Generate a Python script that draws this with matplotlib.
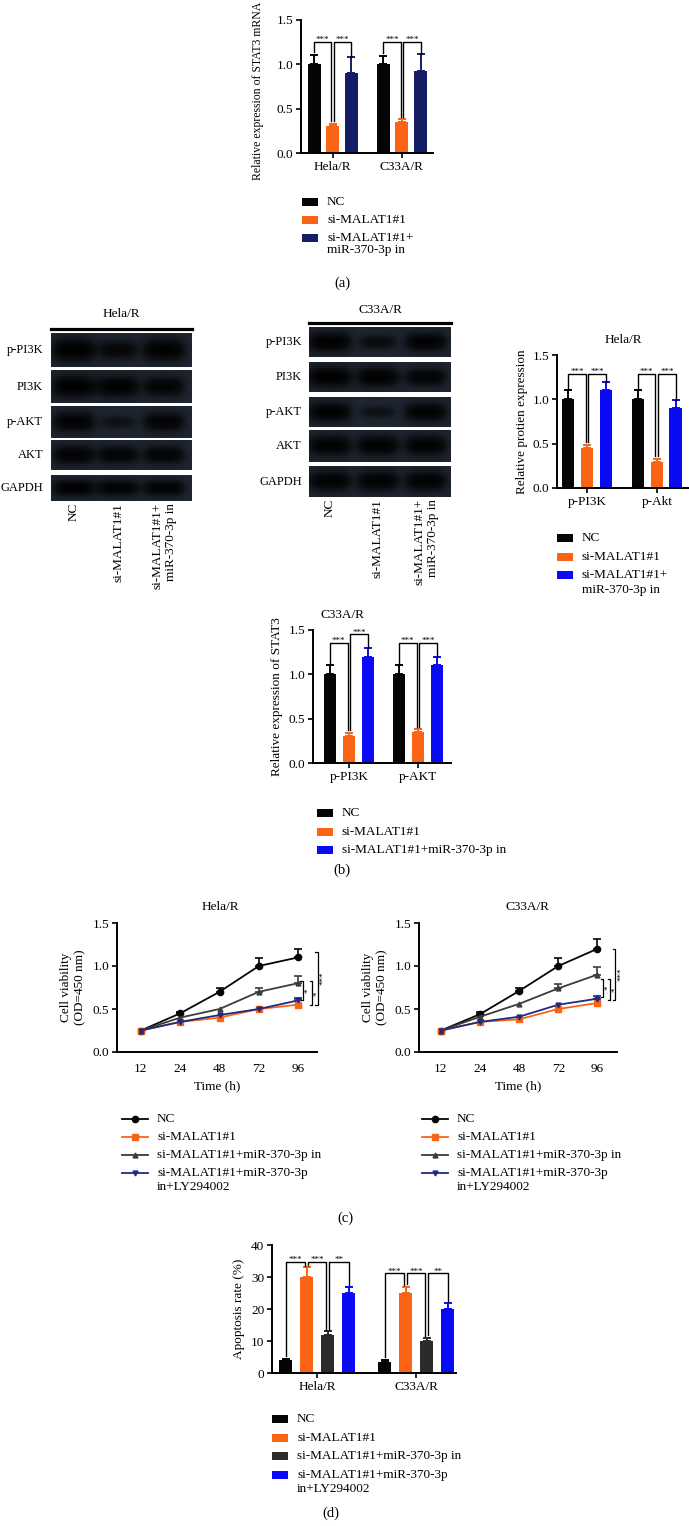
import numpy as np
import matplotlib
matplotlib.use('Agg')
import matplotlib.pyplot as plt
from matplotlib.patches import Rectangle
from matplotlib.lines import Line2D
from matplotlib.colors import LinearSegmentedColormap

plt.rcParams['font.family'] = ['Liberation Serif', 'DejaVu Serif']
plt.rcParams['font.size'] = 9.5

# ---- data ----
# (a) STAT3 mRNA
groups_a = ['Hela/R', 'C33A/R']
nc_a = [1.0, 1.0]
nc_a_err = [0.1, 0.09]
si_a = [0.30, 0.35]
si_a_err = [0.03, 0.03]
inh_a = [0.90, 0.92]
inh_a_err = [0.18, 0.20]

# (b) western blot band strength (0-1)
blot_rows = ['p-PI3K', 'PI3K', 'p-AKT', 'AKT', 'GAPDH']
lanes = ['NC', 'si-MALAT1#1', 'si-MALAT1#1+\nmiR-370-3p in']
hela_bands = [[1.00, 0.75, 0.95],
              [1.00, 0.95, 0.85],
              [0.90, 0.45, 0.85],
              [0.90, 0.85, 0.85],
              [0.95, 0.90, 0.90]]
c33a_bands = [[0.95, 0.60, 0.90],
              [1.00, 0.95, 0.85],
              [0.95, 0.45, 0.90],
              [0.90, 0.90, 0.90],
              [0.90, 0.90, 0.90]]

# (b) Hela/R protein bars
groups_bh = ['p-PI3K', 'p-Akt']
nc_bh = [1.0, 1.0]
nc_bh_err = [0.1, 0.1]
si_bh = [0.45, 0.29]
si_bh_err = [0.04, 0.04]
inh_bh = [1.10, 0.90]
inh_bh_err = [0.10, 0.09]

# (b) C33A/R bars
groups_bc = ['p-PI3K', 'p-AKT']
nc_bc = [1.0, 1.0]
nc_bc_err = [0.1, 0.1]
si_bc = [0.30, 0.35]
si_bc_err = [0.04, 0.03]
inh_bc = [1.20, 1.10]
inh_bc_err = [0.10, 0.09]

# (c) cell viability
time_labels = ['12', '24', '48', '72', '96']
hela_nc = [0.25, 0.45, 0.70, 1.00, 1.10]
hela_nc_err = [0.0, 0.01, 0.04, 0.09, 0.10]
hela_si = [0.25, 0.35, 0.40, 0.50, 0.55]
hela_si_err = [0.0, 0.0, 0.0, 0.0, 0.0]
hela_inh = [0.25, 0.40, 0.50, 0.70, 0.80]
hela_inh_err = [0.0, 0.0, 0.0, 0.04, 0.08]
hela_ly = [0.25, 0.35, 0.43, 0.50, 0.60]
hela_ly_err = [0.0, 0.0, 0.0, 0.0, 0.03]

c33a_nc = [0.25, 0.44, 0.71, 1.00, 1.20]
c33a_nc_err = [0.0, 0.02, 0.04, 0.09, 0.11]
c33a_si = [0.25, 0.35, 0.38, 0.50, 0.57]
c33a_si_err = [0.0, 0.0, 0.0, 0.0, 0.0]
c33a_inh = [0.25, 0.41, 0.56, 0.74, 0.90]
c33a_inh_err = [0.0, 0.0, 0.0, 0.05, 0.09]
c33a_ly = [0.25, 0.35, 0.41, 0.55, 0.62]
c33a_ly_err = [0.0, 0.0, 0.0, 0.0, 0.03]

# (d) apoptosis
groups_d = ['Hela/R', 'C33A/R']
nc_d = [4.0, 3.5]
nc_d_err = [0.5, 0.6]
si_d = [30.0, 25.0]
si_d_err = [3.0, 2.0]
inh_d = [12.0, 10.0]
inh_d_err = [1.0, 1.0]
ly_d = [25.0, 20.0]
ly_d_err = [2.0, 2.0]

# colours
BLACK = '#050505'
ORANGE = '#fa6414'
NAVY = '#151d66'
BLUE = '#0a0af5'
DGRAY = '#2b2b2b'
LGRAY = '#3c3c3c'
LNAVY = '#1f2a80'

W, H = 689, 1526
fig = plt.figure(figsize=(W / 100, H / 100), dpi=100)


def rect(l, t, r, b):
    return [l / W, 1 - b / H, (r - l) / W, (b - t) / H]


def fp(x, y):
    return (x / W, 1 - y / H)


def style_ax(ax):
    for s in ['top', 'right']:
        ax.spines[s].set_visible(False)
    for s in ['left', 'bottom']:
        ax.spines[s].set_linewidth(1.4)
    ax.tick_params(width=1.2, length=3.5, labelsize=9.5, pad=2)


def bars(ax, series, errs, colors, width, step):
    n = len(series)
    x = np.arange(len(series[0]))
    pos = []
    for i, (v, e, c) in enumerate(zip(series, errs, colors)):
        xi = x + (i - (n - 1) / 2) * step
        ax.bar(xi, v, width, color=c, zorder=2)
        ax.errorbar(xi, v, yerr=[np.zeros(len(v)), e], fmt='none', ecolor=c,
                    elinewidth=1.4, capsize=3, capthick=1.4, zorder=2, clip_on=False)
        pos.append(xi)
    ax.set_xticks(x)
    return pos


def bracket(ax, x1, x2, top, b1, b2, txt):
    ax.plot([x1, x1, x2, x2], [b1, top, top, b2], color='black', lw=1.0,
            clip_on=False, zorder=3)
    ax.text((x1 + x2) / 2, top, txt, ha='center', va='baseline', fontsize=6.5,
            clip_on=False)


def legend_rows(labels, styles, x, y0, pitch, kind, cont=13.5):
    # handle aligned with the first line of each label, like the original
    y = y0
    for lab, st in zip(labels, styles):
        if kind == 'bar':
            x0, y0f = fp(x, y + 4)
            fig.add_artist(Rectangle((x0, y0f), 16 / W, 8 / H, facecolor=st,
                                     edgecolor='none', transform=fig.transFigure))
            tx = x + 25
        else:
            c, m, ms = st
            fig.add_artist(Line2D([x / W, (x + 13) / W, (x + 26) / W], [1 - y / H] * 3,
                                  color=c, lw=1.3, marker=m, ms=ms, markevery=[1],
                                  transform=fig.transFigure))
            tx = x + 35
        for k, line in enumerate(lab.split('\n')):
            fig.text(*fp(tx, y + k * cont), line, ha='left', va='center', fontsize=9.5)
        y += pitch + (len(lab.split('\n')) - 1) * cont


# ---------------- (a) ----------------
ax = fig.add_axes(rect(301, 20, 433, 153))
p = bars(ax, [nc_a, si_a, inh_a], [nc_a_err, si_a_err, inh_a_err],
         [BLACK, ORANGE, NAVY], 0.19, 0.27)
ax.set_xticklabels(groups_a)
ax.set_xlim(-0.46, 1.45)
ax.set_ylim(0, 1.5)
ax.set_yticks([0, 0.5, 1.0, 1.5])
style_ax(ax)
ax.set_ylabel('Relative expression of STAT3 mRNA', fontsize=8.5)
ax.yaxis.set_label_coords(-0.28, 0.465)
for g in range(2):
    bracket(ax, p[0][g], p[1][g] - 0.02, 1.255,
            nc_a[g] + nc_a_err[g] + 0.04, si_a[g] + si_a_err[g] + 0.03, '***')
    bracket(ax, p[1][g] + 0.02, p[2][g], 1.255,
            si_a[g] + si_a_err[g] + 0.03, inh_a[g] + inh_a_err[g], '***')
legend_rows(['NC', 'si-MALAT1#1', 'si-MALAT1#1+\nmiR-370-3p in'],
            [BLACK, ORANGE, NAVY], 302, 202, 18, 'bar', cont=12.5)
fig.text(*fp(342, 283), '(a)', ha='center', va='center', fontsize=10.5)

# ---------------- (b) blots ----------------
blot_cmap = LinearSegmentedColormap.from_list('blot', ['#1f2631', '#0b0d10', '#000000'])


def blot(strips, left, right, lane_px, bands, label_x, title, title_y, line_y):
    lane_frac = [(lx - left) / (right - left) for lx in lane_px]
    xs = np.linspace(0, 1, 300)
    ys = np.linspace(0, 1, 60)
    X, Y = np.meshgrid(xs, ys)
    for (t, b), row, name in zip(strips, bands, blot_rows):
        a = fig.add_axes(rect(left, t, right, b))
        img = np.zeros_like(X)
        for cx, v in zip(lane_frac, row):
            img += v * np.exp(-((X - cx) / (0.10 + 0.05 * v)) ** 4
                              - ((Y - 0.5) / (0.10 + 0.22 * v)) ** 2)
        a.imshow(np.clip(img, 0, 1), cmap=blot_cmap, vmin=0, vmax=1,
                 extent=[0, 1, 0, 1], aspect='auto', interpolation='bilinear')
        a.set_axis_off()
        fig.text(*fp(label_x, (t + b) / 2), name, ha='right', va='center', fontsize=9)
    fig.text(*fp((left + right) / 2, title_y), title, ha='center', va='center', fontsize=9.5)
    fig.add_artist(Line2D([left / W, right / W], [1 - line_y / H] * 2,
                          color='black', lw=2.3))
    bottom = strips[-1][1]
    for lx, lab in zip(lane_px, lanes):
        fig.text(*fp(lx, bottom + 2), lab, rotation=90, ha='center', va='top',
                 multialignment='right', fontsize=9.5)


blot([(333, 367), (370, 403), (406, 438), (440, 470), (475, 501)], 51, 192,
     [74, 118, 164], hela_bands, 43, 'Hela/R', 314, 329)
blot([(327, 357), (362, 392), (397, 427), (430, 462), (466, 497)], 309, 451,
     [330, 378, 426], c33a_bands, 302, 'C33A/R', 310, 323)

# ---------------- (b) Hela/R bars ----------------
ax = fig.add_axes(rect(557, 355, 689, 488))
p = bars(ax, [nc_bh, si_bh, inh_bh], [nc_bh_err, si_bh_err, inh_bh_err],
         [BLACK, ORANGE, BLUE], 0.18, 0.27)
ax.set_xticklabels(groups_bh)
ax.set_xlim(-0.43, 1.46)
ax.set_ylim(0, 1.5)
ax.set_yticks([0, 0.5, 1.0, 1.5])
style_ax(ax)
ax.set_ylabel('Relative protien expression', labelpad=3)
fig.text(*fp(623, 340), 'Hela/R', ha='center', va='center', fontsize=9.5)
for g in range(2):
    bracket(ax, p[0][g], p[1][g] - 0.02, 1.29,
            nc_bh[g] + nc_bh_err[g] + 0.02, si_bh[g] + si_bh_err[g] + 0.03, '***')
    bracket(ax, p[1][g] + 0.02, p[2][g], 1.29,
            si_bh[g] + si_bh_err[g] + 0.03, inh_bh[g] + inh_bh_err[g], '***')
legend_rows(['NC', 'si-MALAT1#1', 'si-MALAT1#1+\nmiR-370-3p in'],
            [BLACK, ORANGE, BLUE], 557, 538, 18.5, 'bar', cont=15)

# ---------------- (b) C33A/R bars ----------------
ax = fig.add_axes(rect(313, 630, 451, 763))
p = bars(ax, [nc_bc, si_bc, inh_bc], [nc_bc_err, si_bc_err, inh_bc_err],
         [BLACK, ORANGE, BLUE], 0.18, 0.275)
ax.set_xticklabels(groups_bc)
ax.set_xlim(-0.52, 1.48)
ax.set_ylim(0, 1.5)
ax.set_yticks([0, 0.5, 1.0, 1.5])
style_ax(ax)
ax.set_ylabel('Relative expression of STAT3', labelpad=4)
fig.text(*fp(342, 615), 'C33A/R', ha='center', va='center', fontsize=9.5)
tops_bc = [(1.35, 1.45), (1.35, 1.35)]
for g in range(2):
    bracket(ax, p[0][g], p[1][g] - 0.02, tops_bc[g][0],
            nc_bc[g] + nc_bc_err[g] + 0.02, si_bc[g] + si_bc_err[g] + 0.03, '***')
    bracket(ax, p[1][g] + 0.02, p[2][g], tops_bc[g][1],
            si_bc[g] + si_bc_err[g] + 0.03, inh_bc[g] + inh_bc_err[g], '***')
legend_rows(['NC', 'si-MALAT1#1', 'si-MALAT1#1+miR-370-3p in'],
            [BLACK, ORANGE, BLUE], 317, 813, 18.5, 'bar')
fig.text(*fp(342, 870), '(b)', ha='center', va='center', fontsize=10.5)

# ---------------- (c) viability ----------------
line_labels = ['NC', 'si-MALAT1#1', 'si-MALAT1#1+miR-370-3p in',
               'si-MALAT1#1+miR-370-3p\nin+LY294002']
line_styles = [(BLACK, 'o', 4.5), (ORANGE, 's', 4), (LGRAY, '^', 3.5), (LNAVY, 'v', 3.5)]


def viability(rc, xlim, title, series, errs, vb, leg_x, title_x, ylab_x):
    ax = fig.add_axes(rect(*rc))
    x = np.arange(len(time_labels))
    for v, e, (c, m, ms) in zip(series, errs, line_styles):
        e = np.array(e)
        ax.plot(x, v, color=c, marker=m, ms=ms, lw=1.3, zorder=3, clip_on=False)
        mask = e > 0
        ax.errorbar(x[mask], np.array(v)[mask], yerr=[np.zeros(mask.sum()), e[mask]],
                    fmt='none', ecolor=c, elinewidth=1.2, capsize=3, capthick=1.2,
                    zorder=3)
    ax.set_xticks(x)
    ax.set_xticklabels(time_labels)
    ax.set_xlim(*xlim)
    ax.set_ylim(0, 1.5)
    ax.set_yticks([0, 0.5, 1.0, 1.5])
    style_ax(ax)
    ax.tick_params(axis='x', length=0, pad=8)
    ax.set_xlabel('Time (h)', labelpad=4)
    fig.text(*fp(ylab_x, 987), 'Cell viability\n(OD=450 nm)', rotation=90,
             ha='center', va='center', fontsize=9.5)
    fig.text(*fp(title_x, 907), title, ha='center', va='center', fontsize=9.5)
    for bx, y1, y2, txt in vb:
        ax.plot([bx - 0.07, bx, bx, bx - 0.07], [y1, y1, y2, y2], color='black',
                lw=0.9, clip_on=False)
        ax.text(bx + 0.04, (y1 + y2) / 2, txt, rotation=90, ha='left', va='center',
                fontsize=6.5, clip_on=False)
    legend_rows(line_labels, line_styles, leg_x, 1119, 18, 'line', cont=14)


viability((117, 923, 317, 1052), (-0.61, 4.48), 'Hela/R',
          [hela_nc, hela_si, hela_inh, hela_ly],
          [hela_nc_err, hela_si_err, hela_inh_err, hela_ly_err],
          [(4.13, 0.82, 0.60, '*'), (4.36, 0.82, 0.545, '*'), (4.51, 1.16, 0.545, '***')],
          122, 220, 73)
viability((419, 923, 617, 1052), (-0.56, 4.5), 'C33A/R',
          [c33a_nc, c33a_si, c33a_inh, c33a_ly],
          [c33a_nc_err, c33a_si_err, c33a_inh_err, c33a_ly_err],
          [(4.15, 0.85, 0.64, '*'), (4.33, 0.85, 0.60, '*'), (4.46, 1.20, 0.60, '***')],
          422, 527, 375)
fig.text(*fp(345, 1218), '(c)', ha='center', va='center', fontsize=10.5)

# ---------------- (d) apoptosis ----------------
ax = fig.add_axes(rect(272, 1245, 456, 1373))
p = bars(ax, [nc_d, si_d, inh_d, ly_d], [nc_d_err, si_d_err, inh_d_err, ly_d_err],
         [BLACK, ORANGE, DGRAY, BLUE], 0.13, 0.212)
ax.set_xticklabels(groups_d)
ax.set_xlim(-0.455, 1.4)
ax.set_ylim(0, 40)
ax.set_yticks([0, 10, 20, 30, 40])
style_ax(ax)
ax.set_ylabel('Apoptosis rate (%)', labelpad=4)
tops_d = [34.8, 31.1]
vals_d = [nc_d, si_d, inh_d, ly_d]
errs_d = [nc_d_err, si_d_err, inh_d_err, ly_d_err]
stars_d = ['***', '***', '**']
for g in range(2):
    for k in range(3):
        x1 = p[k][g] + (0.015 if k > 0 else 0)
        x2 = p[k + 1][g] - (0.015 if k < 2 else 0)
        bracket(ax, x1, x2, tops_d[g],
                vals_d[k][g] + errs_d[k][g] + 0.8,
                vals_d[k + 1][g] + errs_d[k + 1][g] + 0.5, stars_d[k])
legend_rows(['NC', 'si-MALAT1#1', 'si-MALAT1#1+miR-370-3p in',
             'si-MALAT1#1+miR-370-3p\nin+LY294002'],
            [BLACK, ORANGE, DGRAY, BLUE], 272, 1419, 18.7, 'bar', cont=14)
fig.text(*fp(331, 1513), '(d)', ha='center', va='center', fontsize=10.5)

fig.savefig('out.png', dpi=100)
